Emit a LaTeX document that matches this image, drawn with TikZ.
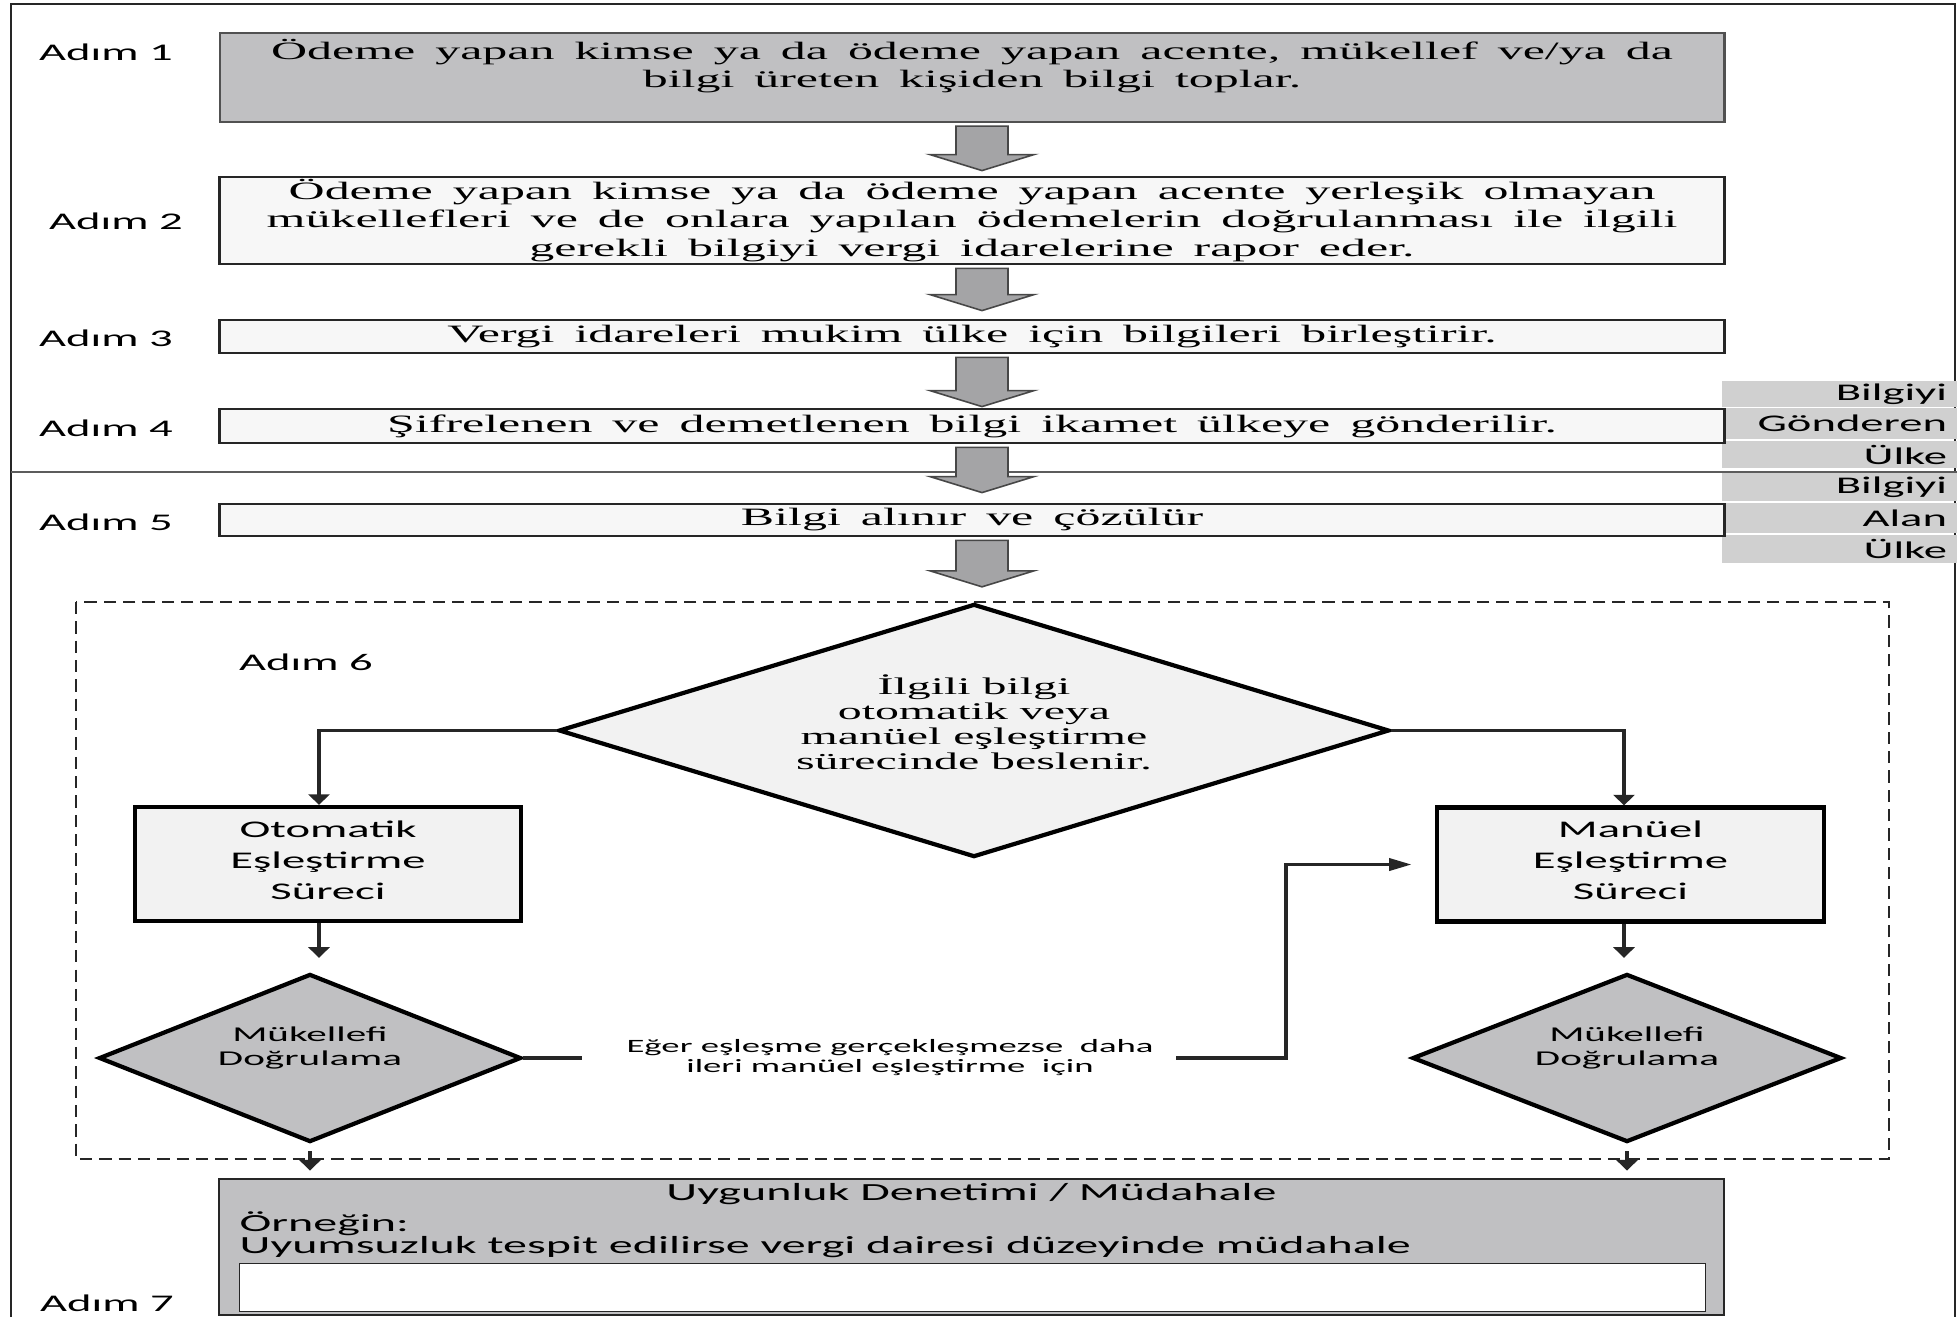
\documentclass[tikz,border=0pt]{standalone}
\usepackage{fontspec}
\setmainfont{Liberation Serif}[FakeStretch=2.0, WordSpace=1.6]
\newfontfamily\feedfont{Liberation Serif}[FakeStretch=2.0]
\newfontfamily\calibri{Carlito}[FakeStretch=1.95]
\usetikzlibrary{positioning, arrows.meta, shapes.geometric, calc}

\definecolor{FrameColor}{RGB}{38,38,38}
\definecolor{BoxGrey}{RGB}{192,192,194}
\definecolor{ArrowGrey}{RGB}{164,164,166}
\definecolor{CellGrey}{RGB}{208,208,208}
\definecolor{PaleFill}{RGB}{247,247,247}
\definecolor{DiamondFill}{RGB}{242,242,242}

\tikzset{
  stepbox/.style={draw=FrameColor, line width=0.8pt, fill=PaleFill, minimum width=15.04cm,
    inner sep=0pt, align=center, font=\fontsize{7.1}{8.1}\selectfont},
  adim/.style={font=\calibri\fontsize{6.8}{8}\selectfont, inner sep=0pt},
  cell/.style={fill=CellGrey, minimum width=2.35cm, text width=2.15cm, align=right,
    inner sep=0pt, font=\calibri\fontsize{6.8}{8}\selectfont},
  bigarrow/.style={draw=FrameColor!85, line width=0.45pt, fill=ArrowGrey},
  process/.style={draw=black, line width=1.2pt, fill=DiamondFill, minimum width=3.86cm,
    minimum height=1.14cm, inner sep=0pt, text depth=0.08cm, align=center,
    font=\calibri\fontsize{6.8}{8.8}\selectfont},
  decision/.style={diamond, draw=black, line width=1.2pt, inner sep=0pt, align=center},
  conn/.style={line width=1.1pt, draw=FrameColor},
  vtip/.style={-{Triangle[width=6pt,length=3pt]}},
  htip/.style={-{Triangle[width=3.4pt,length=6.5pt]}},
}

% grey block arrow between two steps: from, to, gap above target
\newcommand{\blockarrow}[3]{%
  \coordinate (ba-s) at ($(#1.south)+(10,3)$);
  \path (#2.north) ++(0,-#3) coordinate (ba-g);
  \coordinate (ba-t) at (ba-s |- ba-g);
  \draw[bigarrow] ($(ba-s)+(-26,0)$) -- ($(ba-s)+(26,0)$) -- ($(ba-t)+(26,-16)$)
    -- ($(ba-t)+(52,-16)$) -- (ba-t) -- ($(ba-t)+(-52,-16)$) -- ($(ba-t)+(-26,-16)$) -- cycle;}

\begin{document}
\begin{tikzpicture}[x=0.01cm, y=-0.01cm]
  \useasboundingbox (0,0) rectangle (1957,1317);

  % frame and country split
  \draw[FrameColor, line width=0.45pt] (11,1317) -- (11,4) -- (1955,4) -- (1955,1317);
  \draw[FrameColor!75, line width=0.45pt] (11,472) -- (1957,472);

  \foreach \celltext/\yc/\hgt [count=\i] in {Bilgiyi/394/26, Gönderen/423.5/31, Ülke/454.5/27,
      Bilgiyi/487/28, Alan/518/30, Ülke/549/28}
    \node[cell, minimum height=\hgt*0.01cm] (c\i) at (1839.5,\yc) {\celltext};

  % steps 1-5
  \node[stepbox, fill=BoxGrey, draw=FrameColor!80, line width=0.6pt, minimum height=0.89cm] (s1) at (972,77.5)
    {Ödeme yapan kimse ya da ödeme yapan acente, mükellef ve/ya da\\ bilgi üreten kişiden bilgi toplar.\\~};
  \node[stepbox, minimum height=0.87cm] (s2) at (972,220.5)
    {Ödeme yapan kimse ya da ödeme yapan acente yerleşik olmayan\\ mükellefleri ve de onlara yapılan ödemelerin doğrulanması ile ilgili\\ gerekli bilgiyi vergi idarelerine rapor eder.};
  \node[stepbox, minimum height=0.33cm] (s3) at (972,336.5) {Vergi idareleri mukim ülke için bilgileri birleştirir.};
  \node[stepbox, minimum height=0.34cm] (s4) at (972,426) {Şifrelenen ve demetlenen bilgi ikamet ülkeye gönderilir.};
  \node[stepbox, minimum height=0.32cm] (s5) at (972,520) {Bilgi alınır ve çözülür};

  \node[adim] (a1) at (106,52) {Adım 1};
  \node[adim] (a2) at (116,221) {Adım 2};
  \node[adim] (a3) at (106,338) {Adım 3};
  \node[adim] (a4) at (106,428) {Adım 4};
  \node[adim] (a5) at (106,522) {Adım 5};

  % step 6
  \draw[FrameColor, line width=0.5pt, dash pattern=on 3.5pt off 2pt] (76,602) rectangle (1889,1159);
  \node[adim] (a6) at (306,662) {Adım 6};

  \node[decision, fill=DiamondFill, minimum width=8.3cm, minimum height=2.53cm, aspect=3.28,
    text depth=0.17cm, font=\feedfont\fontsize{6.8}{7.1}\selectfont] (feed) at (974,730.5)
    {İlgili bilgi\\ otomatik veya\\ manüel eşleştirme\\ sürecinde beslenir.};

  \node[process] (auto) at (328,864) {Otomatik\\ Eşleştirme\\ Süreci};
  \node[process, minimum width=3.87cm] (manual) at (1630.5,864.5) {Manüel\\ Eşleştirme\\ Süreci};

  \node[decision, fill=BoxGrey, minimum width=4.22cm, minimum height=1.68cm, aspect=2.5,
    font=\calibri\fontsize{6}{6.8}\selectfont] (vleft) at (310,1058) {Mükellefi\\ Doğrulama\\~};
  \node[decision, fill=BoxGrey, minimum width=4.29cm, minimum height=1.68cm, aspect=2.5,
    font=\calibri\fontsize{6}{6.8}\selectfont] (vright) at (1627,1058) {Mükellefi\\ Doğrulama\\~};

  \node[font=\calibri\fontsize{5.35}{5.7}\selectfont, align=center, inner xsep=0.22cm, inner ysep=0pt] (retry) at (890,1058)
    {Eğer eşleşme gerçekleşmezse\ \ daha\\ ileri manüel eşleştirme\ \ için};

  \draw[conn, vtip] (feed.west) -| ([xshift=-0.09cm]auto.north);
  \draw[conn, vtip] (feed.east) -| ([xshift=-0.065cm]manual.north);
  \draw[conn, vtip, shorten >=4pt] ([xshift=-0.09cm]auto.south) -- ([xshift=-0.09cm]auto.south |- vleft.north);
  \draw[conn, vtip, shorten >=4pt] ([xshift=-0.065cm]manual.south) -- ([xshift=-0.065cm]manual.south |- vright.north);
  \draw[conn, shorten >=6.3pt] (vleft.east) -- (retry.west);
  \draw[conn, htip, shorten >=6.5pt] (retry.east) -- ++(110,0) |- (manual.west);

  % step 7
  \node[stepbox, fill=BoxGrey, minimum height=1.36cm] (s7) at (971.5,1247) {};
  \node[font=\calibri\fontsize{7}{8}\selectfont, inner sep=0pt, below=0.05cm of s7.north] (s7title) {Uygunluk Denetimi / Müdahale};
  \node[font=\calibri\fontsize{7}{8}\selectfont, inner sep=0pt, anchor=west] (s7ex) at (239,1224) {Örneğin:};
  \node[font=\calibri\fontsize{7}{8}\selectfont, inner sep=0pt, anchor=west] (s7txt) at (239,1247)
    {Uyumsuzluk tespit edilirse vergi dairesi düzeyinde müdahale};
  \node[draw=FrameColor, line width=0.4pt, fill=white, minimum width=14.65cm, minimum height=0.48cm,
    anchor=north west, inner sep=0pt] (s7blank) at (239,1263) {};
  \node[adim] (a7) at (107,1303) {Adım 7};

  \draw[conn, vtip, shorten <=2pt, shorten >=2pt] (vleft.south) -- (vleft.south |- s7.north);
  \draw[conn, vtip, shorten <=2pt, shorten >=2pt] (vright.south) -- (vright.south |- s7.north);

  \blockarrow{s1}{s2}{5}
  \blockarrow{s2}{s3}{8}
  \blockarrow{s3}{s4}{1}
  \blockarrow{s4}{s5}{10}
  \blockarrow{s5}{feed}{15}
\end{tikzpicture}
\end{document}
